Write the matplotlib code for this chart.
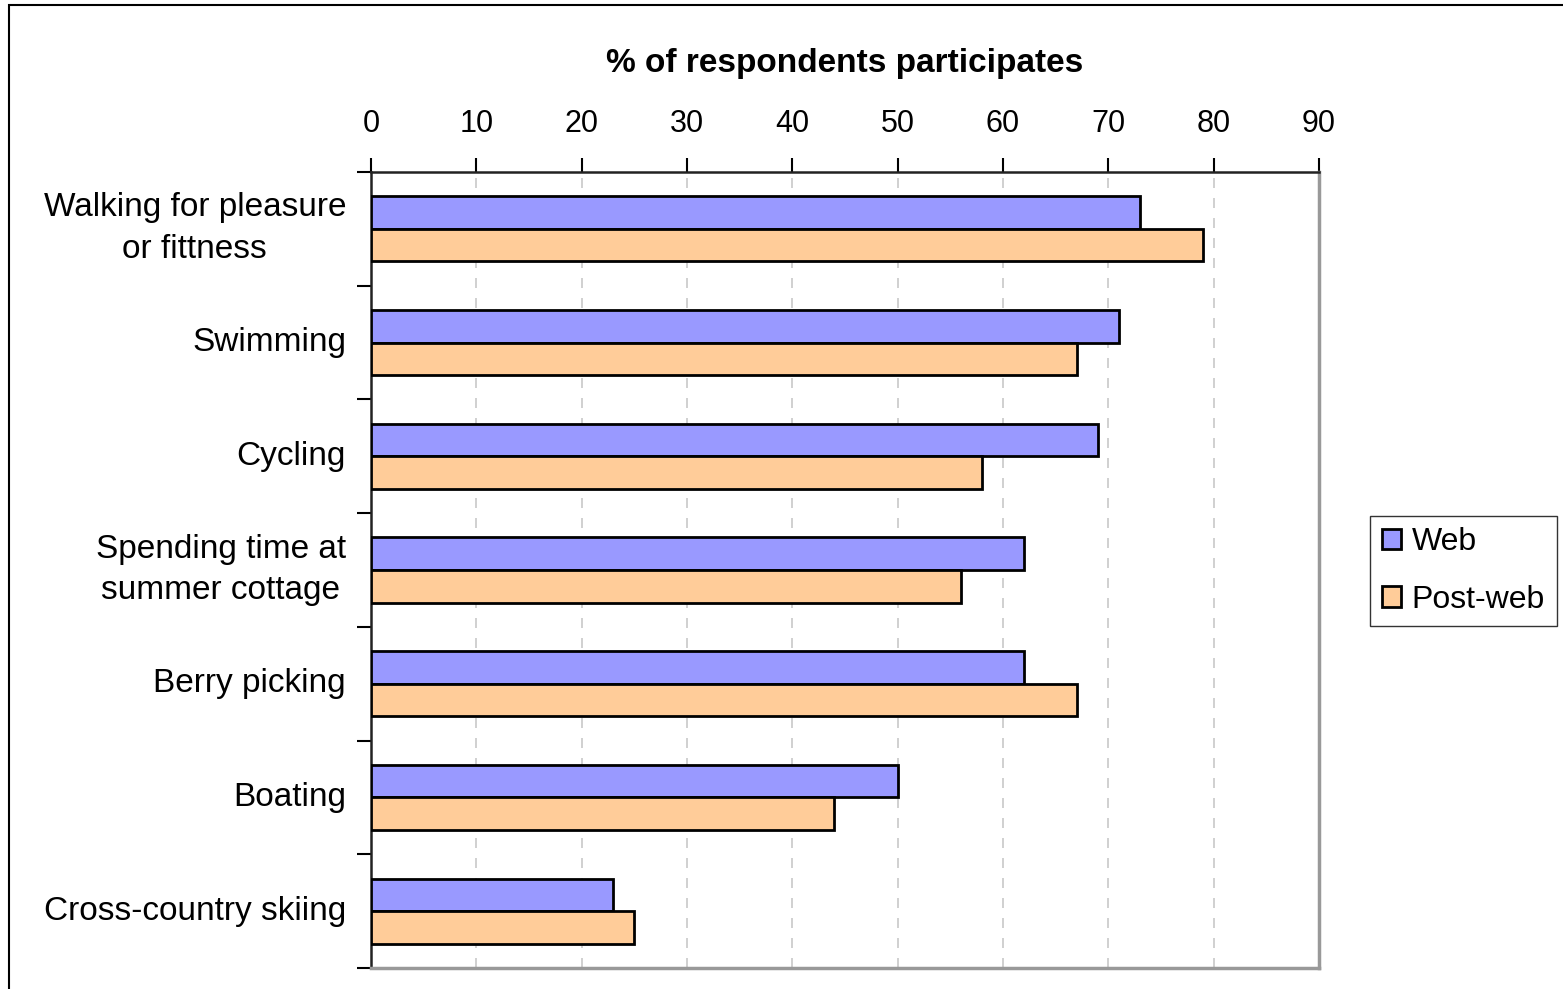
import matplotlib
matplotlib.use("Agg")
import matplotlib.pyplot as plt
import matplotlib.patches as mpatches
import numpy as np

plt.rcParams['font.family'] = ['Liberation Sans', 'DejaVu Sans']

categories = ["Walking for pleasure\nor fittness", "Swimming", "Cycling",
              "Spending time at\nsummer cottage", "Berry picking", "Boating",
              "Cross-country skiing"]
web = [73, 71, 69, 62, 62, 50, 23]
post_web = [79, 67, 58, 56, 67, 44, 25]
series_names = ["Web", "Post-web"]
xticks = [0, 10, 20, 30, 40, 50, 60, 70, 80, 90]

W, H = 1563, 989
fig = plt.figure(figsize=(W / 100, H / 100), dpi=100)
ax = fig.add_axes([371 / W, 1 - 968 / H, (1319 - 371) / W, (968 - 172) / H])

n = len(categories)
pos = np.arange(n)
bh = 0.286
ax.barh(pos - bh / 2, web, height=bh, color='#9999FF', edgecolor='black', linewidth=2, label=series_names[0], zorder=3)
ax.barh(pos + bh / 2, post_web, height=bh, color='#FFCC99', edgecolor='black', linewidth=2, label=series_names[1], zorder=3)

ax.set_ylim(n - 0.5, -0.5)
ax.set_xlim(0, 90)
ax.xaxis.tick_top()
ax.set_xticks(xticks)
ax.set_xticklabels([str(t) for t in xticks], fontsize=22)
ax.tick_params(axis='x', direction='out', length=10, width=1.5, pad=14, colors='black')
ax.set_yticks(np.arange(n + 1) - 0.5, minor=False)
ax.set_yticklabels([])
ax.tick_params(axis='y', direction='out', length=10, width=1.5)
ax.set_yticks(pos, minor=True)
ax.set_yticklabels(categories, minor=True, fontsize=24, linespacing=1.45,
                   ha='right', va='center', multialignment='center')
ax.tick_params(axis='y', which='minor', length=0, pad=18)

ax.grid(axis='x', color='#C8C8C8', linestyle=(0, (6, 6)), linewidth=1.2, zorder=0)
for s in ['left', 'top']:
    ax.spines[s].set_color('#222222')
    ax.spines[s].set_linewidth(1.8)
for s in ['right', 'bottom']:
    ax.spines[s].set_color('#999999')
    ax.spines[s].set_linewidth(2.5)

ax.set_title("% of respondents participates", fontsize=24, fontweight='bold', pad=72)

leg = fig.legend(loc='upper left', bbox_to_anchor=(1370 / W, 1 - 516 / H), fontsize=23,
                 frameon=True, fancybox=False, edgecolor='black', handlelength=0.6,
                 handleheight=0.6, handletextpad=0.35, labelspacing=0.85, borderpad=0.36,
                 borderaxespad=0)
leg.get_frame().set_linewidth(1.0)

border = mpatches.Rectangle((9 / W, -0.1), 1.2, 1.1 - 5 / H, transform=fig.transFigure,
                            fill=False, edgecolor='black', linewidth=1.5, clip_on=False)
fig.patches.append(border)

fig.savefig("out.png", dpi=100)
